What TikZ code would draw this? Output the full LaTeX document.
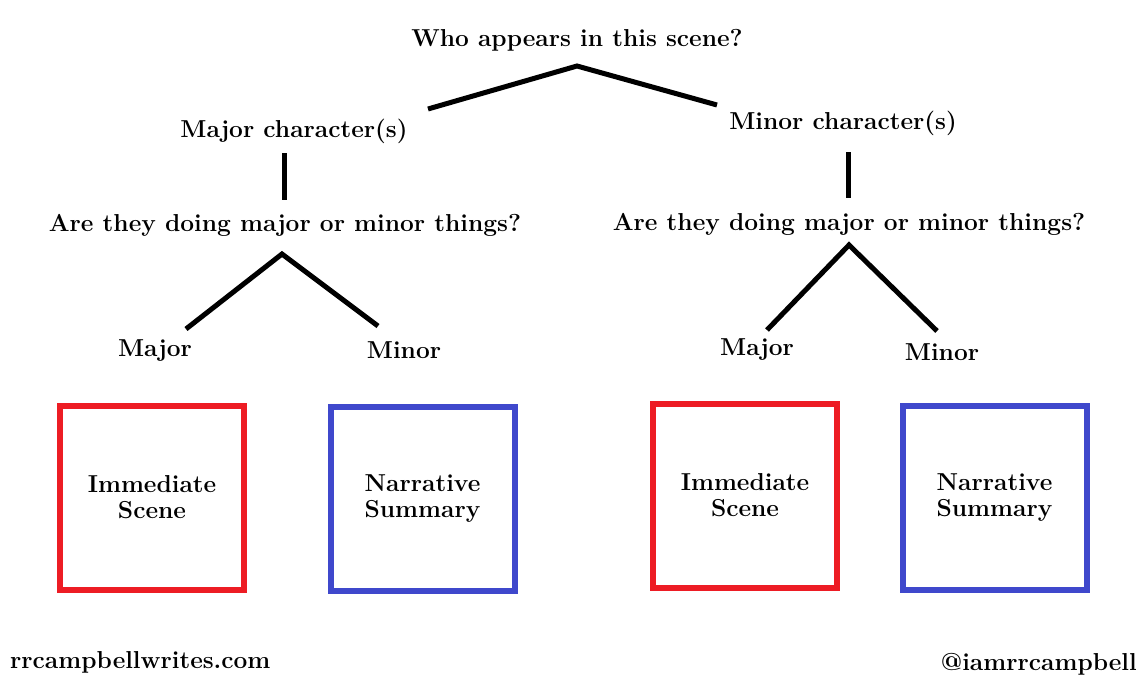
\documentclass[tikz,border=0pt]{standalone}
\usepackage{fontspec}
\usepackage{xcolor}
\definecolor{boxred}{HTML}{ED1C24}
\definecolor{boxblue}{HTML}{3F48CC}
\begin{document}
\begin{tikzpicture}[x=1pt, y=-1pt, font=\fontsize{24.5}{26}\selectfont\bfseries,
    branch/.style={line width=5pt},
    txt/.style={inner sep=0pt},
    outbox/.style={draw, line width=6pt, minimum width=184pt, minimum height=184pt, align=center, inner sep=0pt}]

    \useasboundingbox (0,0) rectangle (1146,680);

    % 1. Otazky
    \node[txt] (who)  at (577,40)  {Who appears in this scene?};
    \node[txt] (majc) at (294,131) {Major character(s)};
    \node[txt] (minc) at (843,123) {Minor character(s)};
    \node[txt] (lq)   at (285,225) {Are they doing major or minor things?};
    \node[txt] (rq)   at (849,224) {Are they doing major or minor things?};

    % 2. Odpovedi
    \node[txt] (lmaj) at (155,351) {Major};
    \node[txt] (lmin) at (404,350) {Minor};
    \node[txt] (rmaj) at (757,350) {Major};
    \node[txt] (rmin) at (942,352) {Minor};

    % 3. Vetve
    \coordinate (top)  at (577,66);
    \coordinate (topl) at (428,109);
    \coordinate (topr) at (717,105);
    \draw[branch] (topl) -- (top) -- (topr);

    \coordinate (vl1) at (284,153);
    \coordinate (vl2) at (284,200);
    \coordinate (vr1) at (848,152);
    \coordinate (vr2) at (848,198);
    \draw[branch] (vl1) -- (vl2);
    \draw[branch] (vr1) -- (vr2);

    \coordinate (la)  at (282,254);
    \coordinate (la1) at (186,329);
    \coordinate (la2) at (378,326);
    \draw[branch] (la1) -- (la) -- (la2);

    \coordinate (ra)  at (849,245);
    \coordinate (ra1) at (767,330);
    \coordinate (ra2) at (937,331);
    \draw[branch] (ra1) -- (ra) -- (ra2);

    % 4. Boxy
    \node[outbox, draw=boxred]  (imml) at (152,497.5) {Immediate\\Scene};
    \node[outbox, draw=boxblue] (narl) at (422.5,499) {Narrative\\Summary};
    \node[outbox, draw=boxred]  (immr) at (745,495.5) {Immediate\\Scene};
    \node[outbox, draw=boxblue] (narr) at (994.5,498) {Narrative\\Summary};

    % 5. Podpisy
    \node[txt, anchor=west] (site) at (10,662) {rrcampbellwrites.com};
    \node[txt, anchor=east] (tw)   at (1137,664) {@iamrrcampbell};

\end{tikzpicture}
\end{document}
